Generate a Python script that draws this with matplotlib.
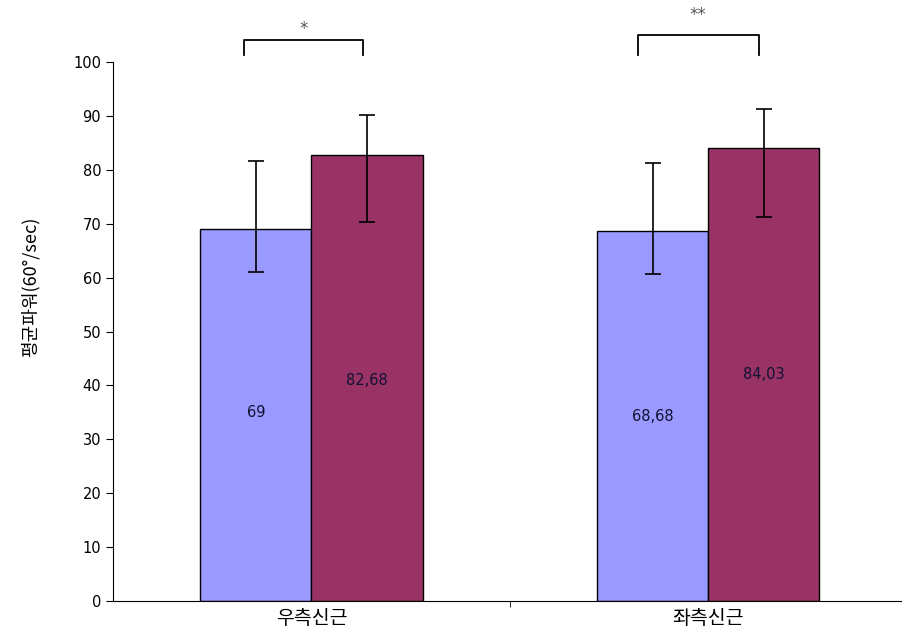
import matplotlib
matplotlib.use("Agg")
import numpy as np
import matplotlib.pyplot as plt

plt.rcParams['font.family'] = ['Noto Sans CJK KR', 'DejaVu Sans']

categories = ["우측신근", "좌측신근"]
means_a = [69, 68.68]
means_b = [82.68, 84.03]
labels_a = ["69", "68,68"]
labels_b = ["82,68", "84,03"]
err_a_low = [8.0, 8.0]
err_a_high = [12.6, 12.6]
err_b_low = [12.4, 12.7]
err_b_high = [7.6, 7.3]
label_y_a = [34.9, 34.3]
label_y_b = [41.0, 42.0]
sig_marks = ["*", "**"]

fig = plt.figure(figsize=(9.02, 6.4), dpi=100)
ax = fig.add_axes([0.1253, 0.0609, 0.880, 0.842])

x = np.arange(len(categories))
w = 0.28
ax.bar(x - w / 2, means_a, w, color="#9999FF", edgecolor="black", linewidth=1.0, zorder=2)
ax.bar(x + w / 2, means_b, w, color="#993366", edgecolor="black", linewidth=1.0, zorder=2)
ax.errorbar(x - w / 2, means_a, yerr=[err_a_low, err_a_high], fmt="none",
            ecolor="black", elinewidth=1.2, capsize=6, capthick=1.2, zorder=3)
ax.errorbar(x + w / 2, means_b, yerr=[err_b_low, err_b_high], fmt="none",
            ecolor="black", elinewidth=1.2, capsize=6, capthick=1.2, zorder=3)

for i in range(len(categories)):
    ax.text(x[i] - w / 2, label_y_a[i], labels_a[i], ha="center", va="center",
            fontsize=10.5, family="DejaVu Sans", color="#111133")
    ax.text(x[i] + w / 2, label_y_b[i], labels_b[i], ha="center", va="center",
            fontsize=10.5, family="DejaVu Sans", color="#111133")

# significance brackets
brackets = [(-0.17, 0.13, 104.1, 106.2), (0.822, 1.127, 105.0, 108.7)]
for (x0, x1, yb, ys), mark in zip(brackets, sig_marks):
    ax.plot([x0, x0, x1, x1], [101.3, yb, yb, 101.3], color="black",
            linewidth=1.3, clip_on=False)
    ax.text((x0 + x1) / 2, ys, mark, ha="center", va="center", fontsize=12,
            color="#555555", family="DejaVu Sans")

ax.set_xlim(-0.5, 1.5)
ax.set_ylim(0, 100)
ax.set_yticks(range(0, 101, 10))
ax.set_xticks(x)
ax.set_xticklabels(categories, fontsize=14)
for lab in ax.get_xticklabels():
    lab.set_x(lab.get_position()[0])
ax.set_xticks([0.5], minor=True)
ax.tick_params(axis="x", which="major", length=0, pad=5)
ax.tick_params(axis="x", which="minor", length=4, direction="out")
ax.tick_params(axis="y", length=5, direction="out", labelsize=10.5)
for lab in ax.get_yticklabels():
    lab.set_family("DejaVu Sans")

ax.spines["top"].set_visible(False)
ax.spines["right"].set_visible(False)
fig.text(30 / 902, 1 - 287 / 640, "평균파워(60°/sec)", rotation=90,
         ha="center", va="center", fontsize=13)

fig.savefig("out.png", dpi=100)
